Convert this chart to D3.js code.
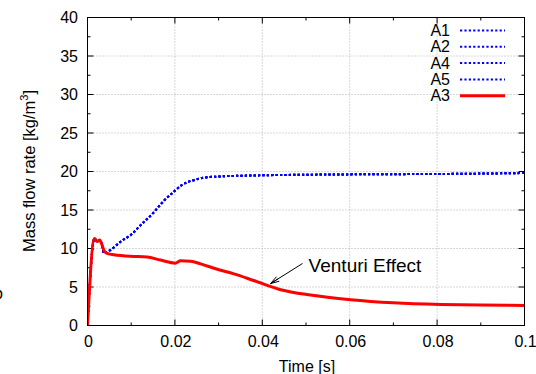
<!DOCTYPE html>
<html><head><meta charset="utf-8">
<script src="https://cdn.jsdelivr.net/npm/d3@7"></script>
<style>body{margin:0;background:#fff}svg{display:block}text{font-family:"Liberation Sans",Arial,sans-serif;fill:#000}</style>
</head><body><svg id="c" width="536" height="374"></svg>
<script>
// Data
const redT = [0,0.0016,0.0022,0.0028,0.0033,0.0039,0.0048,0.006,0.0098,0.0136,0.0167,0.0201,0.0213,0.0236,0.0259,0.0297,0.0335,0.038,0.0442,0.051,0.0602,0.070,0.0808,0.09,0.1];
const redY = [0,11.3,10.9,11.1,10.5,9.6,9.3,9.2,9.0,8.9,8.5,8.1,8.4,8.35,8.0,7.3,6.7,5.85,4.65,3.95,3.35,2.95,2.73,2.65,2.6];
const blueT = [0,0.0016,0.0022,0.0028,0.0033,0.0037,0.0055,0.0076,0.0100,0.0121,0.015,0.0175,0.0198,0.0215,0.0228,0.0245,0.0266,0.03,0.0396,0.0533,0.07,0.085,0.1];
const blueY = [0,11.3,10.9,11.1,10.5,9.4,9.9,10.9,11.8,13.0,14.6,16.2,17.4,18.2,18.6,18.9,19.2,19.35,19.5,19.6,19.65,19.7,19.8];
const seriesNames = ["A1","A2","A4","A5","A3"];
const xTicks = [0,0.02,0.04,0.06,0.08,0.1];
const xTickLabels = ["0","0.02","0.04","0.06","0.08","0.1"];
const yTicks = [0,5,10,15,20,25,30,35,40];
const xMinor = [0.01,0.03,0.05,0.07,0.09];
const yMinor = [2.5,7.5,12.5,17.5,22.5,27.5,32.5,37.5];
const annotation = {text:"Venturi Effect", tipT:0.0419, tipY:5.45, tailT:0.0492, tailY:8.05, textT:0.0506, textY:7.0};

const svg = d3.select("#c");
const L=87.5,R=524.5,T=17.5,B=325.5;
const x = d3.scaleLinear().domain([0,0.1]).range([L,R]);
const y = d3.scaleLinear().domain([0,40]).range([B,T]);

// grid
const g = svg.append("g");
g.selectAll(".gx").data(xTicks.slice(1,-1)).enter().append("line")
 .attr("x1",d=>x(d)).attr("x2",d=>x(d)).attr("y1",T).attr("y2",B)
 .attr("stroke","#b0b0b0").attr("stroke-width",1).attr("stroke-dasharray","1,2");
g.selectAll(".gy").data(yTicks.slice(1,-1)).enter().append("line")
 .attr("x1",L).attr("x2",R).attr("y1",d=>y(d)).attr("y2",d=>y(d))
 .attr("stroke","#b0b0b0").attr("stroke-width",1).attr("stroke-dasharray","1,2");

// ticks (inward, mirrored)
const tk = svg.append("g").attr("stroke","#000").attr("stroke-width",1);
xTicks.forEach(d=>{tk.append("line").attr("x1",x(d)).attr("x2",x(d)).attr("y1",B).attr("y2",B-6);
 tk.append("line").attr("x1",x(d)).attr("x2",x(d)).attr("y1",T).attr("y2",T+6);});
xMinor.forEach(d=>{tk.append("line").attr("x1",x(d)).attr("x2",x(d)).attr("y1",B).attr("y2",B-3);
 tk.append("line").attr("x1",x(d)).attr("x2",x(d)).attr("y1",T).attr("y2",T+3);});
yTicks.forEach(d=>{tk.append("line").attr("x1",L).attr("x2",L+6).attr("y1",y(d)).attr("y2",y(d));
 tk.append("line").attr("x1",R).attr("x2",R-6).attr("y1",y(d)).attr("y2",y(d));});
yMinor.forEach(d=>{tk.append("line").attr("x1",L).attr("x2",L+3).attr("y1",y(d)).attr("y2",y(d));
 tk.append("line").attr("x1",R).attr("x2",R-3).attr("y1",y(d)).attr("y2",y(d));});

// tick labels
svg.selectAll(".xl").data(xTicks).enter().append("text")
 .attr("x",d=>x(d)+1).attr("y",347).attr("text-anchor","middle").attr("font-size",16)
 .text((d,i)=>xTickLabels[i]);
svg.selectAll(".yl").data(yTicks).enter().append("text")
 .attr("x",78).attr("y",d=>y(d)+5.5).attr("text-anchor","end").attr("font-size",16)
 .text(d=>d);

// axis labels
svg.append("text").attr("x",307).attr("y",371.5).attr("text-anchor","middle").attr("font-size",16).text("Time [s]");
const yl = svg.append("text").attr("transform","translate(35,171) rotate(-90)").attr("text-anchor","middle").attr("font-size",16.5);
yl.append("tspan").text("Mass flow rate [kg/m");
yl.append("tspan").attr("font-size",11).attr("dy",-7).text("3");
yl.append("tspan").attr("dy",7).text("]");
svg.append("text").attr("x",3).attr("y",299).attr("text-anchor","end").attr("font-size",16).text("o");

// lines
const clip = svg.append("clipPath").attr("id","clp").append("rect").attr("x",L).attr("y",T).attr("width",R-L).attr("height",B-T);
const line = d3.line().x(d=>x(d[0])).y(d=>y(d[1])).curve(d3.curveMonotoneX);
const blue = blueT.map((t,i)=>[t,blueY[i]]);
const red = redT.map((t,i)=>[t,redY[i]]);
const series = [
 {name:"A1",data:blue,color:"#0000ff",dash:"2.2,2.2",w:2},
 {name:"A2",data:blue,color:"#0000ff",dash:"2.2,2.2",w:2},
 {name:"A4",data:blue,color:"#0000ff",dash:"2.2,2.2",w:2},
 {name:"A5",data:blue,color:"#0000ff",dash:"2.2,2.2",w:2},
 {name:"A3",data:red,color:"#ff0000",dash:null,w:3}
];
const pl = svg.append("g").attr("clip-path","url(#clp)");
series.forEach(s=>{
 pl.append("path").attr("d",line(s.data)).attr("fill","none").attr("stroke",s.color)
  .attr("stroke-width",s.w).attr("stroke-dasharray",s.dash).attr("stroke-linejoin","round");
});

// frame
svg.append("rect").attr("x",L).attr("y",T).attr("width",R-L).attr("height",B-T).attr("fill","none").attr("stroke","#000").attr("stroke-width",1);

// legend
const leg = svg.append("g");
series.forEach((s,i)=>{
 const yy = 30.5 + i*16.3;
 leg.append("text").attr("x",450).attr("y",yy+5.5).attr("text-anchor","end").attr("font-size",16).text(s.name);
 leg.append("line").attr("x1",460).attr("x2",505).attr("y1",yy).attr("y2",yy).attr("stroke",s.color)
  .attr("stroke-width",s.w).attr("stroke-dasharray",s.dash);
});

// annotation
const a = annotation;
const tx=x(a.tipT),ty=y(a.tipY),sx=x(a.tailT),sy=y(a.tailY);
svg.append("line").attr("x1",sx).attr("y1",sy).attr("x2",tx).attr("y2",ty).attr("stroke","#000").attr("stroke-width",1);
const ang=Math.atan2(ty-sy,tx-sx), hl=9, ha=0.3;
[ -ha, 0, ha].forEach(o=>{
 svg.append("line").attr("x1",tx).attr("y1",ty).attr("x2",tx-hl*Math.cos(ang+o)).attr("y2",ty-hl*Math.sin(ang+o)).attr("stroke","#000").attr("stroke-width",1);
});
svg.append("text").attr("x",x(a.textT)).attr("y",y(a.textY)).attr("font-size",19).text(a.text);
</script></body></html>
